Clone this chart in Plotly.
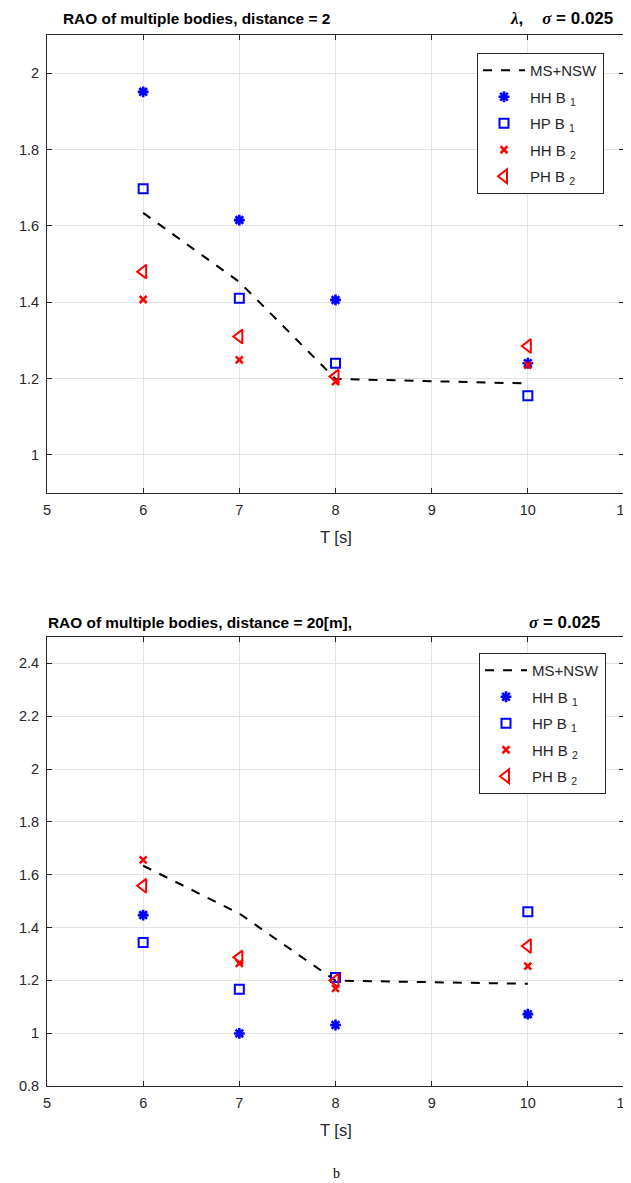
import plotly.graph_objects as go

# ---------------- data ----------------
T = [6, 7, 8, 10]
ms_nsw = [1.634, 1.453, 1.199, 1.187]

# panel a : distance = 2 lambda
a_hh_b1 = [1.951, 1.615, 1.406, 1.240]
a_hp_b1 = [1.697, 1.410, 1.240, 1.155]
a_hh_b2 = [1.407, 1.249, 1.192, 1.235]
a_ph_b2 = [1.480, 1.310, 1.205, 1.285]

# panel b : distance = 20 m
b_hh_b1 = [1.447, 0.999, 1.031, 1.072]
b_hp_b1 = [1.343, 1.166, 1.211, 1.460]
b_hh_b2 = [1.656, 1.264, 1.170, 1.254]
b_ph_b2 = [1.558, 1.287, 1.199, 1.330]

x_ticks = [5, 6, 7, 8, 9, 10, 11]
a_yticks = [1, 1.2, 1.4, 1.6, 1.8, 2]
b_yticks = [0.8, 1, 1.2, 1.4, 1.6, 1.8, 2, 2.2, 2.4]

names = ["MS+NSW", "HH B <sub>1</sub>", "HP B <sub>1</sub>", "HH B <sub>2</sub>", "PH B <sub>2</sub>"]

# page is 631x1183; the plot div sits 8px in from the page corner
PW, PH = 631, 1183
OFF = 8
W, H = PW - OFF, PH - OFF
FONT = "Liberation Sans, Arial, Helvetica, sans-serif"
SERIF = "Liberation Serif, Times New Roman, serif"
AX = "#262626"


def px(x):
    return (x - OFF) / W


def py(y):
    return 1 - (y - OFF) / H


fig = go.Figure()


def add_panel(xa, ya, leg, tag, hh1, hp1, hh2, ph2):
    fig.add_trace(go.Scatter(x=T, y=ms_nsw, mode="lines", name=names[0],
                             line=dict(color="black", width=2, dash="dash"),
                             xaxis=xa, yaxis=ya, legend=leg, legendgroup=tag + "0"))
    fig.add_trace(go.Scatter(x=T, y=hh1, mode="markers", name=names[1],
                             marker=dict(symbol="asterisk-open", size=9, color="blue",
                                         line=dict(color="blue", width=2.6)),
                             xaxis=xa, yaxis=ya, legend=leg, legendgroup=tag + "1"))
    fig.add_trace(go.Scatter(x=T, y=hp1, mode="markers", name=names[2],
                             marker=dict(symbol="square-open", size=9, color="blue",
                                         line=dict(color="blue", width=2)),
                             xaxis=xa, yaxis=ya, legend=leg, legendgroup=tag + "2"))
    fig.add_trace(go.Scatter(x=T, y=hh2, mode="markers", name=names[3],
                             marker=dict(symbol="x-thin-open", size=7, color="red",
                                         line=dict(color="red", width=2.5)),
                             xaxis=xa, yaxis=ya, legend=leg, legendgroup=tag + "3"))
    fig.add_trace(go.Scatter(x=T, y=ph2, mode="markers", name=names[4],
                             marker=dict(symbol="triangle-left-open", size=12, color="red",
                                         line=dict(color="red", width=2)),
                             xaxis=xa, yaxis=ya, legend=leg, legendgroup=tag + "4"))


add_panel("x", "y", "legend", "a", a_hh_b1, a_hp_b1, a_hh_b2, a_ph_b2)
add_panel("x2", "y2", "legend2", "b", b_hh_b1, b_hp_b1, b_hh_b2, b_ph_b2)

xdom = [px(47), px(624)]
ydom_a = [py(493), py(35)]
ydom_b = [py(1086), py(637)]

axis_common = dict(showline=True, linecolor=AX, linewidth=1, mirror="ticks",
                   ticks="inside", ticklen=5, tickcolor=AX, showgrid=True,
                   gridcolor="#e3e3e3", gridwidth=1, zeroline=False, automargin=False,
                   ticklabeloverflow="allow",
                   tickfont=dict(family=FONT, size=14.5, color=AX))

legend_common = dict(xanchor="left", yanchor="top", bgcolor="white",
                     bordercolor=AX, borderwidth=1,
                     font=dict(family=FONT, size=15, color=AX),
                     tracegroupgap=4, itemwidth=42)

fig.update_layout(
    width=W, height=H, autosize=False,
    margin=dict(l=0, r=0, t=0, b=0),
    paper_bgcolor="white", plot_bgcolor="white",
    showlegend=True,
    xaxis=dict(domain=xdom, range=[5, 11], tickvals=x_ticks, anchor="y",
               ticklabelstandoff=4, **axis_common),
    yaxis=dict(domain=ydom_a, range=[0.9, 2.1], tickvals=a_yticks, anchor="x",
               ticklabelstandoff=4, **axis_common),
    xaxis2=dict(domain=xdom, range=[5, 11], tickvals=x_ticks, anchor="y2",
                ticklabelstandoff=4, **axis_common),
    yaxis2=dict(domain=ydom_b, range=[0.8, 2.5], tickvals=b_yticks, anchor="x2",
                ticklabelstandoff=4, **axis_common),
    legend=dict(x=px(477), y=py(53), **legend_common),
    legend2=dict(x=px(479), y=py(653), **legend_common),
)


def ann(text, x, y, size=14, xanchor="center", bold=False, family=FONT, color="black"):
    fig.add_annotation(text=("<b>%s</b>" % text) if bold else text,
                       x=px(x), y=py(y), xref="paper", yref="paper",
                       xanchor=xanchor, yanchor="middle", showarrow=False,
                       font=dict(family=family, size=size, color=color))


def greek(ch):
    return '<span style="font-family:%s"><i>%s</i></span>' % (SERIF, ch)


# titles
ann("RAO of multiple bodies, distance = 2", 61, 19, size=15.4, xanchor="left", bold=True)
ann(greek("λ") + ",&nbsp;&nbsp;&nbsp;&nbsp;" + greek("σ") + "&nbsp;=&nbsp;0.025", 615, 19,
    size=17, xanchor="right", bold=True)
ann("RAO of multiple bodies, distance = 20[m],", 46, 622, size=15.4, xanchor="left", bold=True)
ann(greek("σ") + "&nbsp;=&nbsp;0.025", 602, 622, size=17, xanchor="right", bold=True)

# axis titles
ann("T [s]", 336, 537, size=16.5, color=AX)
ann("T [s]", 336, 1130, size=16.5, color=AX)

# caption
ann("b", 336, 1173, size=14, family=SERIF)

fig.write_html("out.html")
